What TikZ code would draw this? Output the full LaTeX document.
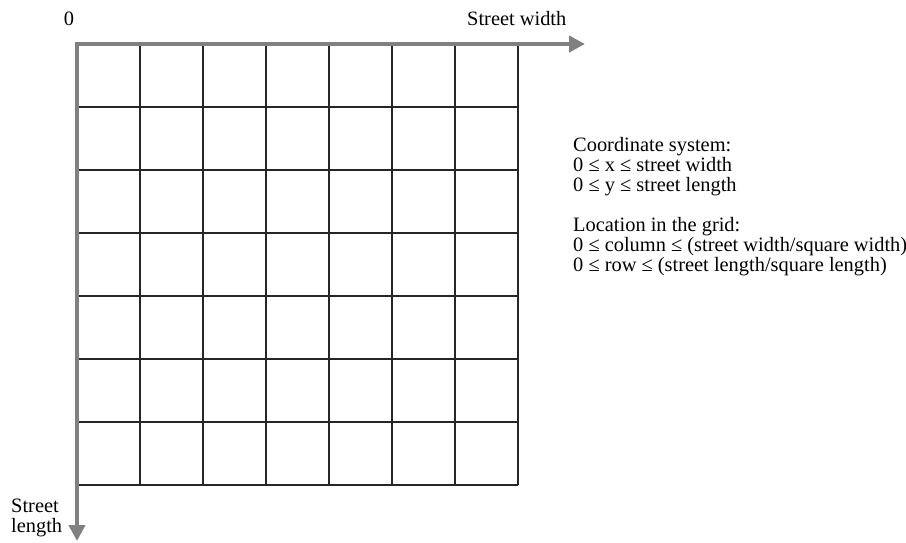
\documentclass[tikz,border=0pt]{standalone}
\usepackage{fontspec}
\setmainfont{Liberation Serif}
\usetikzlibrary{arrows.meta}
\begin{document}
\begin{tikzpicture}[x=1pt,y=-1pt,
  axis/.style={draw=black!50, line width=4.5pt, -{Triangle[length=16pt,width=16pt]}},
  gridline/.style={draw=black!85, line width=1.1pt},
  lbl/.style={font=\fontsize{20.4}{20}\selectfont, inner sep=0pt, text=black}]
\useasboundingbox (0,0) rectangle (906,542);
% grid
\foreach \k in {1,...,7}{
  \draw[gridline] (77+63*\k,44) -- (77+63*\k,485);
  \draw[gridline] (77,44+63*\k) -- (518,44+63*\k);
}
% axes
\coordinate (xs) at (75,44);
\coordinate (xe) at (585,44);
\coordinate (ys) at (77,42);
\coordinate (ye) at (77,541);
\draw[axis] (xs) -- (xe);
\draw[axis] (ys) -- (ye);
% labels
\node[lbl, anchor=base] (zero) at (69,25) {0};
\node[lbl, anchor=base west] (sw) at (467,25) {Street width};
\node[lbl, anchor=base west, align=left] (sl) at (11,532) {Street\\length};
\node[lbl, anchor=base west, align=left] (info) at (573,271)
  {Coordinate system:\\
   0 ≤ x ≤ street width\\
   0 ≤ y ≤ street length\\[20pt]
   Location in the grid:\\
   0 ≤ column ≤ (street width/square width)\\
   0 ≤ row ≤ (street length/square length)};
\end{tikzpicture}
\end{document}
